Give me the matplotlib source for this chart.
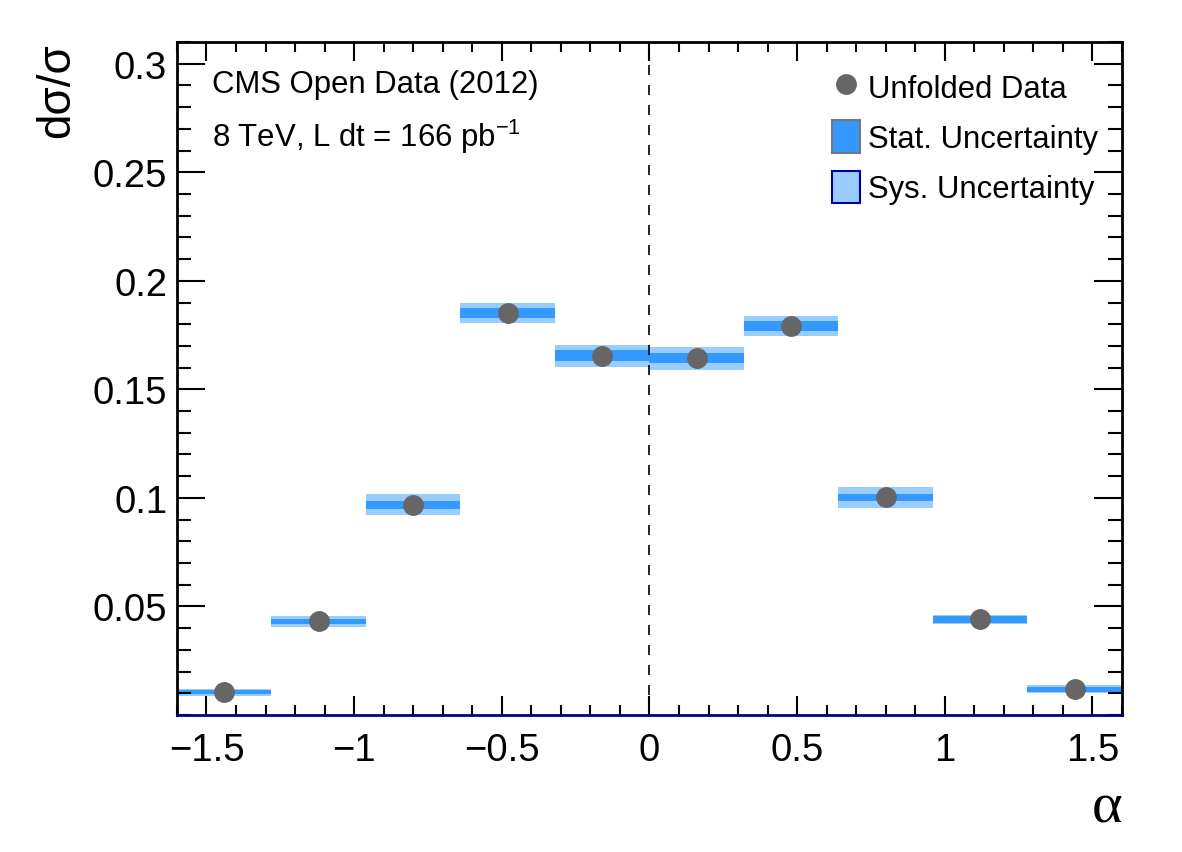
import numpy as np
import matplotlib
matplotlib.use('Agg')
import matplotlib.pyplot as plt
from matplotlib.lines import Line2D
from matplotlib.patches import Patch
from matplotlib.ticker import MultipleLocator

plt.rcParams['font.family'] = ['Liberation Sans', 'DejaVu Sans']
plt.rcParams['mathtext.default'] = 'regular'

# binned unfolded distribution
bin_edges = np.linspace(-1.6, 1.6, 11)
values = [0.0105, 0.0431, 0.0969, 0.1852, 0.1655, 0.1643, 0.1793, 0.1002, 0.0440, 0.0119]
stat_err = [0.0009, 0.0013, 0.0018, 0.0023, 0.0025, 0.0023, 0.0023, 0.0018, 0.0016, 0.0012]
sys_err = [0.0016, 0.0024, 0.0047, 0.0046, 0.0051, 0.0052, 0.0046, 0.0048, 0.0021, 0.0017]

centers = 0.5 * (bin_edges[1:] + bin_edges[:-1])
widths = np.diff(bin_edges)
values = np.array(values)
stat_err = np.array(stat_err)
sys_err = np.array(sys_err)

stat_col = '#3399ff'
sys_col = '#99ccff'
dot_col = '#666666'

fig = plt.figure(figsize=(11.82, 8.53), dpi=100)
ax = fig.add_axes([0.1497, 0.1606, 0.7995, 0.789])

ax.bar(centers, 2 * sys_err, width=widths, bottom=values - sys_err, color=sys_col, linewidth=0)
ax.bar(centers, 2 * stat_err, width=widths, bottom=values - stat_err, color=stat_col, linewidth=0)
ax.plot(centers, values, 'o', color=dot_col, markersize=14, zorder=5)

ax.axvline(0, color='black', linestyle=(0, (6, 6)), linewidth=1.2)

ax.set_xlim(-1.6, 1.6)
ax.set_ylim(0, 0.31)
ax.xaxis.set_minor_locator(MultipleLocator(0.1))
ax.yaxis.set_minor_locator(MultipleLocator(0.01))
ax.set_yticks([0.05, 0.1, 0.15, 0.2, 0.25, 0.3])
ax.set_yticklabels(['0.05', '0.1', '0.15', '0.2', '0.25', '0.3'])
ax.set_xticks([-1.5, -1, -0.5, 0, 0.5, 1, 1.5])
ax.set_xticklabels(['\u22121.5', '\u22121', '\u22120.5', '0', '0.5', '1', '1.5'])

ax.tick_params(which='both', direction='in', top=True, right=True, labelsize=27.5, width=1.5)
ax.tick_params(axis='y', which='major', length=20, pad=7)
ax.tick_params(axis='y', which='minor', length=10)
ax.tick_params(axis='x', which='major', length=14, pad=12)
ax.tick_params(axis='x', which='minor', length=7)
for s in ax.spines.values():
    s.set_linewidth(2)
ax.spines['bottom'].set_color('#000080')

ax.set_xlabel('\u03b1', fontsize=42, family=['Liberation Serif', 'DejaVu Serif'],
              ha='right', va='baseline')
ax.xaxis.set_label_coords(1.0, -0.1575)
ax.set_ylabel('d\u03c3/\u03c3', fontsize=33, ha='right')
ax.yaxis.set_label_coords(-0.104, 1.0)

ax.text(0.037, 0.9257, 'CMS Open Data (2012)', transform=ax.transAxes, fontsize=22.4, va='baseline')
ax.text(0.037, 0.8455, r'8 TeV, L dt = 166 pb$^{-1}$', transform=ax.transAxes, fontsize=22.4, va='baseline')

handles = [
    Line2D([], [], marker='o', linestyle='none', color=dot_col, markersize=14),
    Patch(facecolor=stat_col, edgecolor='#777777', linewidth=1.5),
    Patch(facecolor=sys_col, edgecolor='#000099', linewidth=1.5),
]
labels = ['Unfolded Data', 'Stat. Uncertainty', 'Sys. Uncertainty']
ax.legend(handles, labels, loc='upper left', bbox_to_anchor=(0.693, 0.958), frameon=False,
          fontsize=22.3, handlelength=0.92, handleheight=1.25, handletextpad=0.26,
          labelspacing=0.53, borderpad=0, borderaxespad=0)

fig.savefig('out.png', dpi=100)
